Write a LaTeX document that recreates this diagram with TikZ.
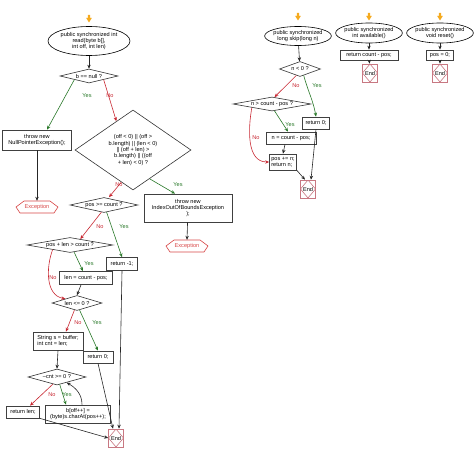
\documentclass[tikz,border=0pt]{standalone}
\usepackage{fontspec}
\setmainfont{Liberation Sans}
\usetikzlibrary{shapes.geometric,arrows.meta}
\definecolor{yesc}{RGB}{40,120,40}
\definecolor{noc}{RGB}{200,40,50}
\definecolor{excc}{RGB}{215,70,70}
\definecolor{endc}{RGB}{200,120,130}
\definecolor{startc}{RGB}{245,170,30}
\begin{document}
\begin{tikzpicture}[x=1pt,y=1pt,
  every node/.style={font=\fontsize{5.6}{6.4}\selectfont, inner sep=0pt},
  proc/.style={draw=black!75, line width=0.7pt, rectangle, align=center, inner sep=1.4pt},
  dec/.style={draw=black!80, line width=0.6pt, diamond, aspect=6, align=center},
  term/.style={draw=black, line width=0.6pt, ellipse, align=center, inner sep=-1pt},
  flow/.style={-{Stealth[length=4pt,width=3.4pt]}, line width=0.6pt, draw=black!85},
  yesf/.style={flow, draw=yesc},
  nof/.style={flow, draw=noc},
  yesl/.style={text=yesc},
  nol/.style={text=noc},
  exc/.style={text=excc, minimum width=42pt, minimum height=12pt},
  endbox/.style={draw=endc, line width=0.6pt, minimum width=15pt, minimum height=18pt,
    path picture={\draw[endc, line width=0.6pt] (path picture bounding box.north) -- (path picture bounding box.east) -- (path picture bounding box.south) -- (path picture bounding box.west) -- cycle;}},
  startm/.style={fill=startc}
]
\useasboundingbox (0,0) rectangle (474,-452);

% ---------- start markers ----------
\foreach \n/\x/\y in {s1/89/-15, s2/298/-13, s3/369/-13, s4/440/-13}{
  \coordinate (\n) at (\x,\y);
  \fill[startm] ([shift={(-1.1,0)}]\n) -- ([shift={(1.1,0)}]\n) -- ([shift={(1.1,-3)}]\n) -- ([shift={(2.8,-3)}]\n) -- ([shift={(0,-7.5)}]\n) -- ([shift={(-2.8,-3)}]\n) -- ([shift={(-1.1,-3)}]\n) -- cycle;
}

% ---------- read() ----------
\node[term, minimum width=82pt, minimum height=29pt] (e1) at (89,-41) {public synchronized int\\read(byte b[],\\int off, int len)};
\node[dec, minimum width=58pt, minimum height=14pt] (d1) at (89,-76) {b == null ?};
\node[proc, minimum width=69pt, minimum height=20pt] (p1) at (37,-140) {throw new\\NullPointerException();};
\node[exc] (x1) at (37,-207) {Exception};
\node[dec, aspect=1.4, minimum width=116pt, minimum height=80pt] (d2) at (133,-150) {(off {\char`\<} 0) || (off {\char`\>}\\b.length) || (len {\char`\<} 0)\\|| (off + len) {\char`\>}\\b.length) || ((off\\+ len) {\char`\<} 0) ?};
\node[dec, minimum width=68pt, minimum height=15pt] (d3) at (104,-205) {pos {\char`\>}= count ?};
\node[proc, minimum width=88pt, minimum height=28pt] (p2) at (188,-208) {throw new\\IndexOutOfBoundsException\\);};
\node[exc] (x2) at (187,-246) {Exception};
\node[dec, minimum width=86pt, minimum height=15pt] (d4) at (70,-245) {pos + len {\char`\>} count ?};
\node[proc, minimum width=31pt, minimum height=13pt] (p3) at (122,-264) {return -1;};
\node[proc, minimum width=53pt, minimum height=13pt] (p4) at (86,-278) {len = count - pos;};
\node[dec, minimum width=50pt, minimum height=15pt] (d5) at (77,-303) {len {\char`\<}= 0 ?};
\node[proc, minimum width=50pt, minimum height=18pt, align=left] (p5) at (58,-341) {String s = buffer;\\int cnt = len;};
\node[proc, minimum width=30pt, minimum height=12pt] (p6) at (98,-357) {return 0;};
\node[dec, minimum width=58pt, minimum height=16pt] (d6) at (57,-377) {--cnt {\char`\>}= 0 ?};
\node[proc, minimum width=33pt, minimum height=12pt] (p7) at (23,-412) {return len;};
\node[proc, minimum width=65pt, minimum height=18pt] (p8) at (78,-414) {b[off++] =\\(byte)s.charAt(pos++);};
\node[endbox] (end1) at (116,-438) {End};
\draw[excc, line width=0.6pt] ([shift={(-13,6)}]x1.center) -- ([shift={(13,6)}]x1.center) -- ([shift={(21,0)}]x1.center) -- ([shift={(17,-6)}]x1.center) -- ([shift={(-17,-6)}]x1.center) -- ([shift={(-21,0)}]x1.center) -- cycle;
\draw[excc, line width=0.6pt] ([shift={(-13,6)}]x2.center) -- ([shift={(13,6)}]x2.center) -- ([shift={(21,0)}]x2.center) -- ([shift={(17,-6)}]x2.center) -- ([shift={(-17,-6)}]x2.center) -- ([shift={(-21,0)}]x2.center) -- cycle;

\draw[flow] (e1) -- (d1);
\draw[yesf] (d1.south west) -- ([xshift=10]p1.north);
\draw[nof] (d1.south east) -- (d2.120);
\draw[flow] (p1) -- (x1.north);
\draw[nof] (d2.250) -- ([xshift=5]d3.north);
\draw[yesf] (d2.300) -- ([xshift=-13]p2.north);
\draw[flow] (p2) -- (x2.north);
\draw[nof] (d3.250) -- (d4.30);
\draw[yesf] (d3.290) -- (p3.north);
\draw[yesf] (d4.300) -- ([xshift=-3]p4.north);
\draw[nof] (d4.195) to[out=-110, in=170] (d5.160);
\draw[flow] ([xshift=-5]p4.south) -- (d5.north);
\draw[nof] (d5.250) -- ([xshift=8]p5.north);
\draw[yesf] (d5.290) -- (p6.north);
\draw[flow] (p5.south) -- (d6.north);
\draw[nof] (d6.240) -- ([xshift=7]p7.north);
\draw[yesf] (d6.290) -- ([xshift=-12]p8.north);
\draw[flow] ([xshift=4]p8.north) to[out=90, in=-30] (d6.330);
\draw[flow] (p7.south east) -- (end1.west);
\draw[flow] (p6.south) -- ([xshift=-3]end1.north);
\draw[flow] (p3.south) -- ([xshift=3]end1.north);

\node[yesl] (l1) at (87,-96) {Yes};
\node[nol] (l2) at (110,-96) {No};
\node[nol] (l3) at (119,-185) {No};
\node[yesl] (l4) at (178,-185) {Yes};
\node[nol] (l5) at (100,-227) {No};
\node[yesl] (l6) at (124,-227) {Yes};
\node[yesl] (l7) at (89,-264) {Yes};
\node[nol] (l8) at (53,-278) {No};
\node[nol] (l9) at (78,-323) {No};
\node[yesl] (l10) at (97,-323) {Yes};
\node[nol] (l11) at (52,-395) {No};
\node[yesl] (l12) at (67,-395) {Yes};

% ---------- skip() ----------
\node[term, minimum width=66pt, minimum height=19pt] (e2) at (298,-36) {public synchronized\\long skip(long n)};
\node[dec, minimum width=40pt, minimum height=15pt] (d7) at (300,-69) {n {\char`\<} 0 ?};
\node[dec, minimum width=78pt, minimum height=14pt] (d8) at (272,-104) {n {\char`\>} count - pos ?};
\node[proc, minimum width=27pt, minimum height=12pt] (p9) at (316,-123) {return 0;};
\node[proc, minimum width=50pt, minimum height=12pt] (p10) at (291,-138) {n = count - pos;};
\node[proc, minimum width=27pt, minimum height=16pt, align=left] (p11) at (283,-162) {pos += n;\\return n;};
\node[endbox] (end2) at (308,-189) {End};

\draw[flow] (e2) -- (d7);
\draw[nof] (d7.240) -- (d8.70);
\draw[yesf] (d7.300) to[out=-75, in=100] (p9.north);
\draw[yesf] (d8.290) -- ([xshift=-3]p10.north);
\draw[nof] (d8.190) to[out=-100, in=180] (p11.west);
\draw[flow] ([xshift=-6]p10.south) -- (p11.north);
\draw[flow] (p11.south east) -- ([xshift=-3]end2.north);
\draw[flow] (p9.south) -- ([xshift=3]end2.north);

\node[nol] (l13) at (296,-86) {No};
\node[yesl] (l14) at (317,-86) {Yes};
\node[yesl] (l15) at (290,-125) {Yes};
\node[nol] (l16) at (256,-138) {No};

% ---------- available() ----------
\node[term, minimum width=66pt, minimum height=20pt] (e3) at (369,-33) {public synchronized\\int available()};
\node[proc, minimum width=58pt, minimum height=10pt] (p12) at (369,-55) {return count - pos;};
\node[endbox] (end3) at (370,-73) {End};
\draw[flow] (e3) -- (p12);
\draw[flow] (p12) -- (end3);

% ---------- reset() ----------
\node[term, minimum width=66pt, minimum height=20pt] (e4) at (440,-33) {public synchronized\\void reset()};
\node[proc, minimum width=27pt, minimum height=10pt] (p13) at (440,-55) {pos = 0;};
\node[endbox] (end4) at (440,-73) {End};
\draw[flow] (e4) -- (p13);
\draw[flow] (p13) -- (end4);
\end{tikzpicture}
\end{document}
